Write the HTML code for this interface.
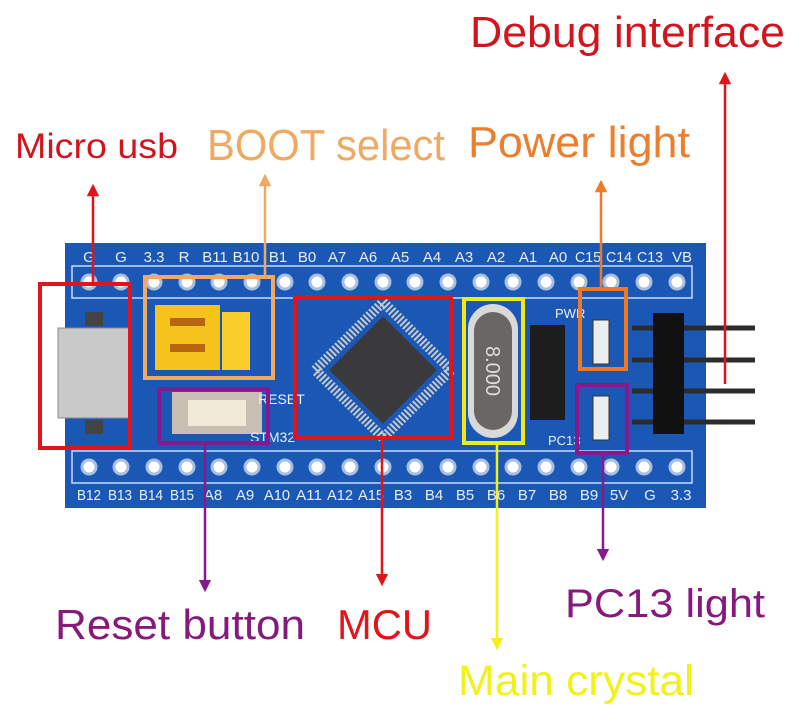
<!DOCTYPE html>
<html><head><meta charset="utf-8"><style>
html,body{margin:0;padding:0;background:#fff;}
svg{display:block;}
text{font-family:"Liberation Sans",sans-serif;}
</style></head><body>
<svg width="796" height="721" viewBox="0 0 796 721" xmlns="http://www.w3.org/2000/svg">
<defs>
<marker id="ar" viewBox="0 0 10 10" refX="5" refY="5" markerWidth="5" markerHeight="5" orient="auto-start-reverse"><path d="M0,0 L10,5 L0,10 z" fill="context-stroke"/></marker>
</defs>
<rect x="65" y="243" width="641" height="265" fill="#1b58b5"/>
<rect x="38" y="300" width="27" height="150" fill="#fff"/>
<rect x="72" y="266" width="620" height="32" fill="none" stroke="#c8daf5" stroke-width="1.5"/>
<g fill="#fff" stroke="#a9bfe0" stroke-width="3">
<circle cx="89" cy="282" r="7"/><circle cx="121" cy="282" r="7"/><circle cx="154" cy="282" r="7"/><circle cx="187" cy="282" r="7"/><circle cx="219" cy="282" r="7"/><circle cx="252" cy="282" r="7"/><circle cx="285" cy="282" r="7"/><circle cx="317" cy="282" r="7"/><circle cx="350" cy="282" r="7"/><circle cx="383" cy="282" r="7"/><circle cx="415" cy="282" r="7"/><circle cx="448" cy="282" r="7"/><circle cx="481" cy="282" r="7"/><circle cx="513" cy="282" r="7"/><circle cx="546" cy="282" r="7"/><circle cx="579" cy="282" r="7"/><circle cx="611" cy="282" r="7"/><circle cx="644" cy="282" r="7"/><circle cx="677" cy="282" r="7"/>
</g>
<rect x="72" y="451" width="620" height="32" fill="none" stroke="#c8daf5" stroke-width="1.5"/>
<g fill="#fff" stroke="#a9bfe0" stroke-width="3">
<circle cx="89" cy="467" r="7"/><circle cx="121" cy="467" r="7"/><circle cx="154" cy="467" r="7"/><circle cx="187" cy="467" r="7"/><circle cx="219" cy="467" r="7"/><circle cx="252" cy="467" r="7"/><circle cx="285" cy="467" r="7"/><circle cx="317" cy="467" r="7"/><circle cx="350" cy="467" r="7"/><circle cx="383" cy="467" r="7"/><circle cx="415" cy="467" r="7"/><circle cx="448" cy="467" r="7"/><circle cx="481" cy="467" r="7"/><circle cx="513" cy="467" r="7"/><circle cx="546" cy="467" r="7"/><circle cx="579" cy="467" r="7"/><circle cx="611" cy="467" r="7"/><circle cx="644" cy="467" r="7"/><circle cx="677" cy="467" r="7"/>
</g>
<g fill="#e8eef8" font-size="15" text-anchor="middle">
<text x="89" y="262">G</text><text x="121" y="262">G</text><text x="154" y="262">3.3</text><text x="184" y="262">R</text><text x="215" y="262">B11</text><text x="246" y="262">B10</text><text x="278" y="262">B1</text><text x="307" y="262">B0</text><text x="337" y="262">A7</text><text x="368" y="262">A6</text><text x="400" y="262">A5</text><text x="432" y="262">A4</text><text x="464" y="262">A3</text><text x="496" y="262">A2</text><text x="528" y="262">A1</text><text x="558" y="262">A0</text><text x="588" y="262" textLength="26" lengthAdjust="spacingAndGlyphs">C15</text><text x="619" y="262" textLength="26" lengthAdjust="spacingAndGlyphs">C14</text><text x="650" y="262" textLength="26" lengthAdjust="spacingAndGlyphs">C13</text><text x="682" y="262">VB</text>
<text x="89" y="500" textLength="24" lengthAdjust="spacingAndGlyphs">B12</text><text x="120" y="500" textLength="24" lengthAdjust="spacingAndGlyphs">B13</text><text x="151" y="500" textLength="24" lengthAdjust="spacingAndGlyphs">B14</text><text x="182" y="500" textLength="24" lengthAdjust="spacingAndGlyphs">B15</text><text x="213" y="500">A8</text><text x="245" y="500">A9</text><text x="277" y="500" textLength="26" lengthAdjust="spacingAndGlyphs">A10</text><text x="309" y="500" textLength="26" lengthAdjust="spacingAndGlyphs">A11</text><text x="340" y="500" textLength="26" lengthAdjust="spacingAndGlyphs">A12</text><text x="371" y="500" textLength="26" lengthAdjust="spacingAndGlyphs">A15</text><text x="403" y="500">B3</text><text x="434" y="500">B4</text><text x="465" y="500">B5</text><text x="496" y="500">B6</text><text x="527" y="500">B7</text><text x="558" y="500">B8</text><text x="589" y="500">B9</text><text x="619" y="500">5V</text><text x="650" y="500">G</text><text x="681" y="500">3.3</text>
</g>
<rect x="58" y="328" width="72" height="90" fill="#c9c9c9" stroke="#8d8d8d"/>
<rect x="85" y="312" width="18" height="14" fill="#444"/>
<rect x="85" y="420" width="18" height="14" fill="#444"/>
<rect x="155" y="305" width="65" height="65" fill="#f6c21c"/>
<rect x="222" y="312" width="28" height="58" fill="#f8cf2a"/>
<rect x="170" y="318" width="35" height="8" fill="#b8650f"/>
<rect x="170" y="344" width="35" height="8" fill="#b8650f"/>
<rect x="172" y="392" width="90" height="42" fill="#c8beb1"/>
<rect x="188" y="400" width="58" height="26" fill="#f2ead9"/>
<text x="258" y="404" fill="#e8eef8" font-size="14">RESET</text>
<text x="250" y="442" fill="#e8eef8" font-size="14">STM32</text>
<g transform="translate(383 370) rotate(45)">
<rect x="-48" y="-48" width="96" height="96" fill="none" stroke="#c9c9c9" stroke-width="10" stroke-dasharray="2 2"/>
<rect x="-38" y="-38" width="76" height="76" fill="#3a3a3c"/>
</g>
<rect x="468" y="304" width="50" height="134" rx="25" fill="#d9d9d9"/>
<rect x="474" y="312" width="38" height="118" rx="19" fill="#6a6663"/>
<text transform="translate(486 371) rotate(90)" fill="#ddd" font-size="20" text-anchor="middle">8.000</text>
<rect x="530" y="325" width="35" height="95" fill="#1d1d1d"/>
<text x="555" y="318" fill="#e8eef8" font-size="13">PWR</text>
<text x="548" y="445" fill="#e8eef8" font-size="13">PC13</text>
<rect x="593" y="320" width="16" height="44" fill="#e9eef0" stroke="#333"/>
<rect x="593" y="396" width="16" height="44" fill="#e9eef0" stroke="#333"/>
<g stroke="#2c2c2c" stroke-width="5">
<line x1="632" y1="328" x2="755" y2="328"/><line x1="632" y1="360" x2="755" y2="360"/><line x1="632" y1="391" x2="755" y2="391"/><line x1="632" y1="422" x2="755" y2="422"/>
</g>
<rect x="653" y="313" width="31" height="121" fill="#111"/>
<g fill="none" stroke-width="4">
<rect x="40" y="284" width="90" height="164" stroke="#e2141b"/>
<rect x="145" y="277" width="128" height="101" stroke="#f0a962"/>
<rect x="159" y="389" width="109" height="54" stroke="#861a8c"/>
<rect x="295" y="297" width="156" height="141" stroke="#e2141b"/>
<rect x="464" y="299" width="59" height="144" stroke="#f1e81a"/>
<rect x="580" y="289" width="46" height="80" stroke="#f07a22"/>
<rect x="577" y="385" width="50" height="68" stroke="#861a8c"/>
</g>
<g stroke-width="2.5" fill="none">
<line x1="93" y1="282" x2="93" y2="190" stroke="#e2141b" marker-end="url(#ar)"/>
<line x1="265" y1="277" x2="265" y2="180" stroke="#f0a962" marker-end="url(#ar)"/>
<line x1="601" y1="289" x2="601" y2="186" stroke="#f07a22" marker-end="url(#ar)"/>
<line x1="725" y1="384" x2="725" y2="78" stroke="#e2141b" marker-end="url(#ar)"/>
<line x1="205" y1="443" x2="205" y2="586" stroke="#861a8c" marker-end="url(#ar)"/>
<line x1="382" y1="438" x2="382" y2="580" stroke="#e2141b" marker-end="url(#ar)"/>
<line x1="497" y1="443" x2="497" y2="644" stroke="#f1f21a" marker-end="url(#ar)"/>
<line x1="603" y1="453" x2="603" y2="555" stroke="#861a8c" marker-end="url(#ar)"/>
</g>
<text x="15" y="158" fill="#d2141f" font-size="35" textLength="163" lengthAdjust="spacingAndGlyphs">Micro usb</text>
<text x="207" y="160" fill="#eeaa64" font-size="44" textLength="238" lengthAdjust="spacingAndGlyphs">BOOT select</text>
<text x="468" y="157" fill="#ec7f2e" font-size="44" textLength="222" lengthAdjust="spacingAndGlyphs">Power light</text>
<text x="470" y="47" fill="#d2141f" font-size="44" textLength="315" lengthAdjust="spacingAndGlyphs">Debug interface</text>
<text x="55" y="639" fill="#861a7c" font-size="42" textLength="250" lengthAdjust="spacingAndGlyphs">Reset button</text>
<text x="337" y="639" fill="#e2141b" font-size="42" textLength="95" lengthAdjust="spacingAndGlyphs">MCU</text>
<text x="565" y="617" fill="#861a7c" font-size="40" textLength="200" lengthAdjust="spacingAndGlyphs">PC13 light</text>
<text x="458" y="695" fill="#f1f21a" font-size="43" textLength="236" lengthAdjust="spacingAndGlyphs">Main crystal</text>
</svg>
</body></html>
